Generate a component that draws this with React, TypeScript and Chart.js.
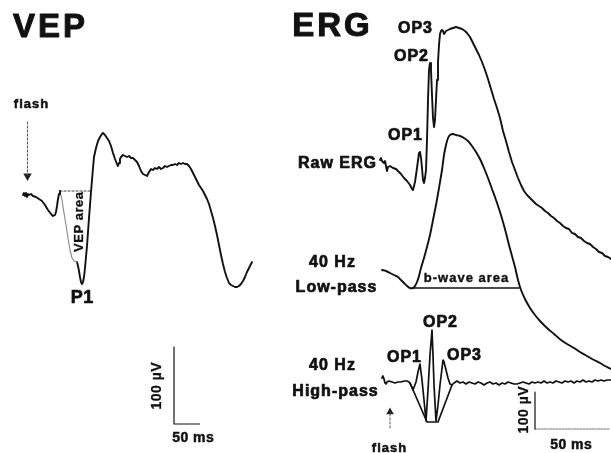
import React, { useEffect, useRef } from "react";
import { Chart, registerables } from "chart.js";

Chart.register(...registerables);

// Figure coordinate frame (x to the right, y downward), one unit per image pixel
const FRAME_W = 611;
const FRAME_H = 453;

type P = [number, number];

// ---------- VEP panel ----------
const vepEarly: P[] = [[23,195],[24,193],[25,196],[26,193],[27,197],[28,194],[29,195],[31,194],[33,196],[36,197],[39,199],[42,201],[45,205],[48,210],[51,214],[53,216],[55,215],[56,212],[57,206],[58,199],[59,194],[60,191]];
const vepAreaEdge: P[] = [[60,191],[62,200],[64,213],[66,225],[68,238],[70,250],[72,258],[74,261],[77,262]];
const vepLate: P[] = [[77,262],[78,266],[79,271],[80,277],[81,282],[82,284],[83,282],[84,277],[85,268],[86,257],[87,246],[88,232],[89,218],[90,205],[91,192],[92,180],[93,168],[94,157],[96,148],[98,141],[100,137],[102,134],[103,133],[105,135],[107,138],[109,141],[111,146],[113,153],[115,159],[117,164],[118,166],[119,163],[120,159],[121,157],[123,155],[125,156],[127,157],[129,156],[131,158],[133,158],[135,160],[137,162],[139,166],[141,171],[143,174],[145,175],[147,176],[149,172],[151,169],[153,170],[155,168],[157,169],[159,167],[161,169],[163,168],[165,166],[167,167],[169,166],[171,165],[173,165],[175,164],[177,165],[179,163],[181,164],[183,163],[185,164],[187,164],[189,166],[191,169],[193,173],[195,177],[197,181],[199,185],[201,188],[203,191],[205,195],[207,199],[209,204],[211,211],[213,218],[215,226],[217,235],[219,245],[221,255],[223,264],[225,272],[227,278],[229,283],[231,285],[233,286],[235,287],[237,287],[239,286],[241,284],[243,281],[245,277],[247,272],[249,268],[251,264],[252,262]];
const vepAreaTop: P[] = [[60,191],[91,191]];
const vepScaleBar: P[] = [[174,347],[174,424],[200,424]];
const vepFlashArrow: P[] = [[27.5,122],[27.5,175]];
const vepFlashHead: P[] = [[27.5,176]];

// ---------- ERG panel ----------
const rawERG: P[] = [[380,160],[381,158],[382,161],[384,163],[385,161],[386,166],[387,171],[388,167],[390,166],[393,168],[396,169],[398,171],[401,174],[404,178],[407,181],[410,185],[412,189],[413,190],[415,182],[417,168],[419,153],[420,152],[421,158],[422,168],[423,180],[424,183],[425,178],[426,170],[427,140],[428,100],[429,70],[430,63],[431,70],[432,95],[433,118],[434,127],[435,120],[436,100],[437,80],[438,62],[439,45],[440,34],[441,31],[442,30],[443,31],[444,34],[445,34],[446,31],[448,30],[450,29],[453,28],[456,27],[459,28],[462,29],[465,31],[467,33],[470,37],[473,43],[476,49],[479,55],[482,62],[485,70],[488,79],[491,89],[494,99],[497,108],[500,118],[503,131],[506,141],[509,152],[512,162],[515,170],[518,178],[521,185],[524,191],[527,195],[530,198],[533,201],[536,204],[539,206],[542,208],[545,211],[548,213],[551,216],[554,218],[557,221],[560,223],[563,226],[566,228],[569,229],[572,233],[575,234],[578,237],[581,238],[584,241],[587,243],[590,244],[593,247],[596,249],[599,252],[602,253],[605,256],[608,257],[611,259]];
const lowPass: P[] = [[382,270],[386,271],[390,273],[394,275],[398,277],[401,280],[404,283],[407,286],[410,288],[413,288],[415,286],[417,282],[419,276],[421,268],[424,258],[427,247],[430,235],[433,220],[436,205],[439,188],[442,170],[444,155],[446,145],[448,138],[450,135],[453,134],[456,135],[460,136],[464,138],[468,141],[472,146],[476,152],[480,159],[484,168],[488,178],[492,189],[496,200],[500,212],[503,222],[506,233],[509,245],[512,256],[515,267],[518,280],[521,290],[525,299],[530,308],[535,315],[540,321],[547,328],[554,334],[561,340],[567,344],[574,348],[580,352],[587,356],[594,360],[600,363],[605,366],[611,369]];
const bWaveBase: P[] = [[413,288],[519,288]];
const highPass: P[] = [[382,378],[383,376],[384,379],[385,383],[386,384],[387,382],[389,381],[392,382],[395,383],[398,382],[401,382],[404,381],[407,381],[409,382],[411,385],[413,390],[416,382],[418,372],[420,364],[422,380],[424,400],[426,421],[428,390],[430,355],[432,330],[433,355],[434,385],[436,421],[438,405],[440,385],[443,360],[444,362],[446,370],[448,378],[450,384],[452,385],[454,383],[457,381],[460,383],[463,382],[466,384],[469,382],[472,383],[475,384],[478,382],[481,383],[484,385],[487,383],[490,382],[493,384],[496,383],[499,385],[502,383],[505,384],[508,382],[511,383],[514,384],[517,384],[520,383],[523,382],[526,383],[529,384],[532,382],[535,383],[538,382],[541,383],[544,381],[547,383],[550,382],[553,383],[556,381],[559,382],[562,383],[565,381],[568,382],[571,381],[574,383],[577,381],[580,382],[583,380],[586,382],[589,381],[592,382],[595,380],[598,381],[601,380],[604,381],[607,380],[611,380]];
const highPassEnvelope: P[] = [[410,383],[427,422],[438,422],[452,385]];
const ergScaleV: P[] = [[535,392],[535,429]];
const ergScaleH: P[] = [[535,429],[610,429]];
const ergFlashArrow: P[] = [[390,428],[390,413]];
const ergFlashHead: P[] = [[390,412]];

// ---------- text labels: [text, x centre, baseline y] ----------
const titleLabels: [string, number, number][] = [["VEP", 49, 37], ["ERG", 331, 36]];
const traceLabels: [string, number, number][] = [
  ["OP3", 415, 33], ["OP2", 411, 61], ["OP1", 405, 140], ["Raw ERG", 337, 168],
  ["40 Hz", 332, 267], ["Low-pass", 336, 292],
  ["40 Hz", 332, 370], ["High-pass", 335, 396],
  ["OP1", 404, 362], ["OP2", 440, 327], ["OP3", 464, 360],
];
const smallLabels: [string, number, number][] = [["flash", 31, 108], ["flash", 389, 452]];
const scaleLabels: [string, number, number][] = [["50 ms", 193, 442], ["50 ms", 571, 449]];
const rotatedLabels: [string, number, number, number][] = [
  ["VEP area", 79, 222, 13], ["100 µV", 157, 386, 14], ["100 µV", 524, 410, 14],
];
const peakLabel: [string, number, number] = ["P1", 82, 303];
const areaLabel: [string, number, number] = ["b-wave area", 466, 282];

const FONT = '"Liberation Sans", Arial, Helvetica, sans-serif';

function line(data: P[], opts: any = {}) {
  return {
    data: data.map(([x, y]) => ({ x, y })),
    showLine: true,
    borderColor: "#111",
    borderWidth: 1.9,
    pointRadius: 0,
    pointHoverRadius: 0,
    tension: 0,
    fill: false,
    borderJoinStyle: "round",
    borderCapStyle: "round",
    ...opts,
  };
}

const labelPlugin = {
  id: "figureLabels",
  afterDatasetsDraw(chart: any) {
    const { ctx, scales } = chart;
    const px = (v: number) => scales.x.getPixelForValue(v);
    const py = (v: number) => scales.y.getPixelForValue(v);
    const draw = (t: string, x: number, y: number, size: number, spacing: number, rot = 0, stroke = 0.5) => {
      ctx.save();
      ctx.fillStyle = "#111";
      ctx.strokeStyle = "#111";
      ctx.lineWidth = stroke;
      ctx.lineJoin = "round";
      ctx.font = `bold ${size}px ${FONT}`;
      (ctx as any).letterSpacing = `${spacing}px`;
      ctx.textAlign = "center";
      ctx.translate(px(x), py(y));
      if (rot) {
        ctx.rotate((rot * Math.PI) / 180);
        ctx.textBaseline = "middle";
      } else {
        ctx.textBaseline = "alphabetic";
      }
      ctx.fillText(t, spacing / 2, 0);
      if (stroke > 0) ctx.strokeText(t, spacing / 2, 0);
      ctx.restore();
    };
    titleLabels.forEach(([t, x, y]) => draw(t, x, y, 33, 3, 0, 1));
    traceLabels.forEach(([t, x, y]) => draw(t, x, y, 16, 1, 0, 0.7));
    smallLabels.forEach(([t, x, y]) => draw(t, x, y, 13, 1));
    scaleLabels.forEach(([t, x, y]) => draw(t, x, y, 14, 0.5));
    rotatedLabels.forEach(([t, x, y, s]) => draw(t, x, y, s, 0.5, -90, 0.3));
    draw(peakLabel[0], peakLabel[1], peakLabel[2], 18, 0.5, 0, 0.7);
    draw(areaLabel[0], areaLabel[1], areaLabel[2], 13, 1, 0, 0.4);
  },
};

export default function App() {
  const ref = useRef<HTMLCanvasElement | null>(null);
  useEffect(() => {
    if (!ref.current) return;
    const chart = new Chart(ref.current, {
      type: "scatter",
      data: {
        datasets: [
          line(vepEarly),
          line(vepAreaEdge, { borderColor: "#888", borderWidth: 1.1 }),
          line(vepLate),
          line(vepAreaTop, { borderColor: "#444", borderWidth: 1.2, borderDash: [2, 2] }),
          line(vepScaleBar, { borderWidth: 1.2, borderCapStyle: "butt" }),
          line(vepFlashArrow, { borderColor: "#555", borderWidth: 1, borderDash: [2, 2] }),
          line(vepFlashHead, { pointRadius: 3, pointStyle: "triangle", rotation: 180, backgroundColor: "#222", borderColor: "#222", showLine: false }),
          line(rawERG),
          line(lowPass, { tension: 0.3 }),
          line(bWaveBase, { borderWidth: 1.6 }),
          line(highPass, { borderWidth: 1.7 }),
          line(highPassEnvelope, { borderWidth: 1.7 }),
          line(ergScaleV, { borderWidth: 1.2 }),
          line(ergScaleH, { borderColor: "#777", borderWidth: 1, borderDash: [2, 1] }),
          line(ergFlashArrow, { borderColor: "#555", borderWidth: 1, borderDash: [2, 2] }),
          line(ergFlashHead, { pointRadius: 2.5, pointStyle: "triangle", rotation: 0, backgroundColor: "#222", borderColor: "#222", showLine: false }),
        ] as any,
      },
      options: {
        animation: false,
        responsive: false,
        devicePixelRatio: 1,
        layout: { padding: 0, autoPadding: false },
        plugins: { legend: { display: false }, tooltip: { enabled: false } },
        events: [],
        scales: {
          x: { type: "linear", min: 0, max: FRAME_W, display: false },
          y: { type: "linear", min: 0, max: FRAME_H, reverse: true, display: false },
        },
      },
      plugins: [labelPlugin],
    });
    return () => chart.destroy();
  }, []);
  return (
    <div style={{ position: "absolute", left: 0, top: 0, width: FRAME_W, height: FRAME_H, background: "#fff" }}>
      <canvas ref={ref} width={FRAME_W} height={FRAME_H} style={{ display: "block" }} />
    </div>
  );
}
